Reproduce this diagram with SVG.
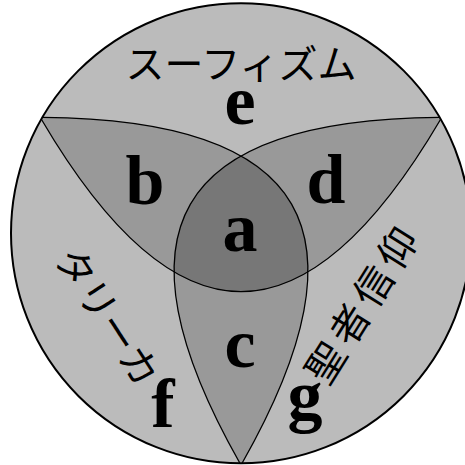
<svg xmlns="http://www.w3.org/2000/svg" xmlns:xlink="http://www.w3.org/1999/xlink" width="465" height="465" viewBox="0 0 465 465">
<style>
.lt{font-family:"Liberation Serif","Times New Roman",serif;font-weight:bold;font-size:70px;text-anchor:middle;fill:#000}
.jp{font-family:"Liberation Serif","Noto Sans CJK JP",serif;font-size:39px;text-anchor:middle;fill:#000}
.cv{fill:none;stroke:#000;stroke-width:1.3}
</style>
<defs>
<path id="p1" d="M41.5,119.5 C176.5,349.1 305.5,349.1 440.5,119.5 A230,230 0 0 0 41.5,119.5 Z"/>
<path id="cv" d="M41.5,119.5 C176.5,349.1 305.5,349.1 440.5,119.5"/>
<clipPath id="k1"><use xlink:href="#p1"/></clipPath>
<clipPath id="k2"><use xlink:href="#p1" transform="rotate(120 241 233.3)"/></clipPath>
</defs>
<g id="regions">
<circle cx="241" cy="233.3" r="230" fill="#bbbbbb"/>
<g clip-path="url(#k1)">
<use xlink:href="#p1" transform="rotate(120 241 233.3)" fill="#999999"/>
<use xlink:href="#p1" transform="rotate(-120 241 233.3)" fill="#999999"/>
</g>
<g clip-path="url(#k2)">
<use xlink:href="#p1" transform="rotate(-120 241 233.3)" fill="#999999"/>
</g>
<g clip-path="url(#k1)"><g clip-path="url(#k2)">
<use xlink:href="#p1" transform="rotate(-120 241 233.3)" fill="#777777"/>
</g></g>
</g>
<g id="connectors">
<use xlink:href="#cv" class="cv"/>
<use xlink:href="#cv" class="cv" transform="rotate(120 241 233.3)"/>
<use xlink:href="#cv" class="cv" transform="rotate(-120 241 233.3)"/>
<circle cx="241" cy="233.3" r="230" fill="none" stroke="#000" stroke-width="2"/>
</g>
<g id="labels">
<text class="jp" x="241" y="78">スーフィズム</text>
<text class="lt" x="240" y="124">e</text>
<text class="lt" x="145" y="204">b</text>
<text class="lt" x="326" y="203">d</text>
<text class="lt" x="240" y="251">a</text>
<text class="lt" x="240" y="367">c</text>
<text class="lt" x="163" y="427">f</text>
<text class="lt" x="305" y="419">g</text>
<text class="jp" transform="translate(108,316) rotate(57)" y="15">タリーカ</text>
<text class="jp" transform="translate(361,305) rotate(-58)" x="3" y="15" style="letter-spacing:6px">聖者信仰</text>
</g>
</svg>
